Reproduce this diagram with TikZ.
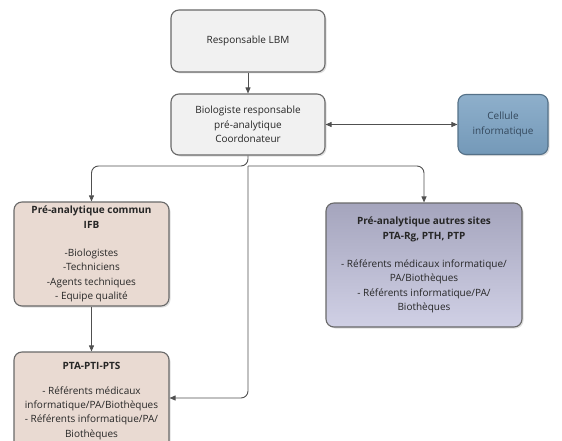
\documentclass[tikz,border=0pt]{standalone}
\usepackage{fontspec}
\setmainfont{Open Sans}
\usepackage{tikz}
\usetikzlibrary{
  arrows.meta,
  shadows
}
\definecolor{boxgray}{RGB}{241,241,241}
\definecolor{edgegray}{RGB}{105,105,105}
\definecolor{linegray}{RGB}{80,80,80}
\definecolor{cellblue}{RGB}{122,161,194}
\definecolor{celltext}{RGB}{52,72,92}
\definecolor{ifbbeige}{RGB}{233,218,210}
\definecolor{sitelav}{RGB}{188,188,218}

\begin{document}
\begin{tikzpicture}[
  x=1pt, y=-1pt,
  block/.style={draw=edgegray, rounded corners=8pt, line width=1.1pt,
                align=center, inner sep=2pt, fill=boxgray, text=black!85,
                font=\fontsize{10}{14.3}\selectfont,
                drop shadow={shadow xshift=1.5pt, shadow yshift=-1.5pt, opacity=0.25}},
  flow/.style={-{Triangle[length=6pt,width=5pt]}, line width=0.9pt, linegray,
               rounded corners=7pt}
]
\useasboundingbox (0,0) rectangle (562,441);
\clip (0,0) rectangle (562,441);

%% Top: direction
\node[block, minimum width=154pt, minimum height=62pt] (lbm) at (248,41)
  {Responsable LBM};
\node[block, minimum width=154pt, minimum height=61pt] (bio) at (248,124.5)
  {Biologiste responsable\\pré-analytique\\Coordonateur};
\node[block, draw=cellblue!70!black, top color=cellblue!85!white, bottom color=cellblue!95!black,
      text=celltext, minimum width=90pt, minimum height=60pt] (cel) at (503,124.5)
  {Cellule\\informatique};

%% Left column: IFB
\node[block, fill=ifbbeige, minimum width=155pt, minimum height=104pt] (ifb) at (91.5,254)
  {\textbf{Pré-analytique commun}\\\textbf{IFB}\\[14.3pt]-Biologistes\\-Techniciens\\-Agents techniques\\- Equipe qualité};
\node[block, fill=ifbbeige, minimum width=155pt, minimum height=98pt] (pta) at (91.5,401)
  {\textbf{PTA-PTI-PTS}\\[10pt]- Référents  médicaux\\informatique/PA/Biothèques\\- Référents informatique/PA/\\Biothèques};

%% Right: other sites
\node[block, top color=sitelav!85!black!95, bottom color=sitelav!70!white,
      minimum width=196pt, minimum height=124pt] (sites) at (424,265)
  {\textbf{Pré-analytique autres sites}\\\textbf{PTA-Rg, PTH, PTP}\\[14.3pt]- Référents médicaux informatique/\\PA/Biothèques\\- Référents informatique/PA/\\Biothèques};

%% Arrows
\coordinate (split) at (248,166);
\draw[flow] (lbm)--(bio);
\draw[flow, {Triangle[length=6pt,width=5pt]}-{Triangle[length=6pt,width=5pt]}] (bio)--(cel);
\draw[flow] (bio.south) -- (split) -| (ifb.north);
\draw[flow] (split) -| (sites.north);
\draw[flow] (split) |- ([yshift=3pt]pta.east);
\draw[flow] (ifb)--(pta);
\end{tikzpicture}
\end{document}
